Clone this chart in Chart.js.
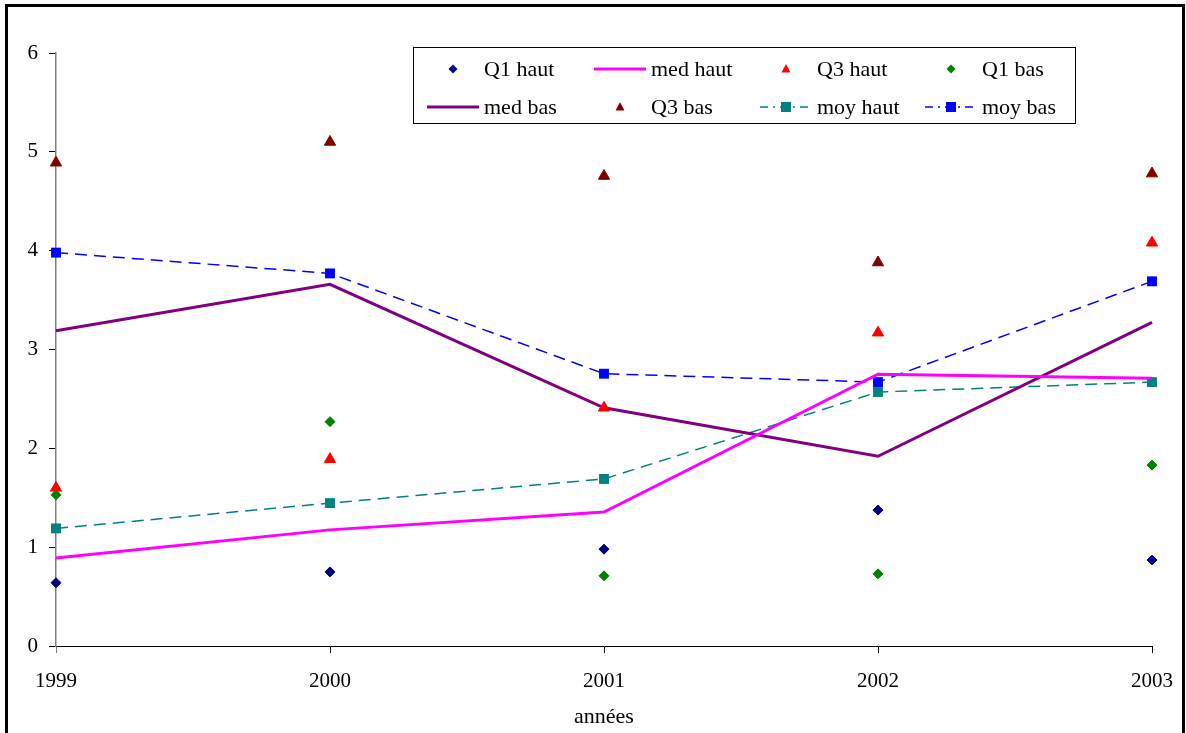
<!DOCTYPE html>
<html>
<head>
<meta charset="utf-8">
<title>Quartiles, médianes et moyennes 1999-2003</title>
<script src="https://cdn.jsdelivr.net/npm/chart.js@4.4.1/dist/chart.umd.min.js"></script>
<style>
  html, body { margin: 0; padding: 0; background: #fff; }
  canvas { display: block; }
</style>
</head>
<body>
<canvas id="chart" width="1186" height="733"></canvas>
<script>
// Categories
const years = ['1999', '2000', '2001', '2002', '2003'];

// Series values
const q1Haut  = [0.64, 0.75, 0.98, 1.375, 0.87];
const medHaut = [0.89, 1.175, 1.355, 2.75, 2.71];
const q3Haut  = [1.60, 1.89, 2.41, 3.17, 4.08];
const q1Bas   = [1.53, 2.27, 0.71, 0.73, 1.83];
const medBas  = [3.19, 3.66, 2.41, 1.92, 3.275];
const q3Bas   = [4.89, 5.10, 4.755, 3.88, 4.78];
const moyHaut = [1.19, 1.446, 1.69, 2.57, 2.67];
const moyBas  = [3.98, 3.77, 2.755, 2.67, 3.69];

// Value axis range
const yMin = 0, yMax = 6, yStep = 1;

const FONT = 'Liberation Serif, "Times New Roman", Times, serif';

function markers(label, data, color, style, radius) {
  return {
    label, data, showLine: false,
    pointStyle: style, pointRadius: radius, pointHoverRadius: radius,
    pointBackgroundColor: color, pointBorderColor: color, pointBorderWidth: 1,
    borderColor: color, backgroundColor: color
  };
}
function solid(label, data, color) {
  return {
    label, data, showLine: true, borderColor: color, backgroundColor: color,
    borderWidth: 3, pointRadius: 0, pointHoverRadius: 0, tension: 0
  };
}
function dashed(label, data, color) {
  return {
    label, data, showLine: true, borderColor: color, backgroundColor: color,
    borderWidth: 1.5, borderDash: [12, 7], tension: 0,
    pointStyle: 'rect', pointRadius: 7, pointHoverRadius: 7,
    pointBackgroundColor: color, pointBorderColor: color, pointBorderWidth: 0
  };
}

// Boxed two-row legend drawn inside the plot
const boxLegend = {
  id: 'boxLegend',
  afterDraw(chart) {
    const ctx = chart.ctx;
    ctx.save();
    ctx.strokeStyle = '#000';
    ctx.lineWidth = 1;
    ctx.setLineDash([]);
    ctx.strokeRect(413.5, 47.5, 662, 76);
    const cols = [484, 651, 817, 982];
    const rows = [69, 107];
    ctx.font = '22px ' + FONT;
    ctx.textBaseline = 'middle';
    ctx.textAlign = 'left';
    chart.data.datasets.forEach((ds, i) => {
      const tx = cols[i % 4], ty = rows[Math.floor(i / 4)];
      const cx = tx - 31;
      const color = ds.borderColor;
      ctx.fillStyle = color;
      ctx.strokeStyle = color;
      if (ds.showLine) {
        ctx.lineWidth = ds.borderWidth;
        ctx.setLineDash(ds.borderDash ? [8, 5, 2, 5] : []);
        ctx.beginPath();
        ctx.moveTo(tx - 57, ty);
        ctx.lineTo(tx - 5, ty);
        ctx.stroke();
        ctx.setLineDash([]);
        if (ds.pointRadius > 0) {
          ctx.fillRect(cx - 5, ty - 5, 10, 10);
        }
      } else if (ds.pointStyle === 'rectRot') {
        ctx.beginPath();
        ctx.moveTo(cx, ty - 4.5);
        ctx.lineTo(cx + 4.5, ty);
        ctx.lineTo(cx, ty + 4.5);
        ctx.lineTo(cx - 4.5, ty);
        ctx.closePath();
        ctx.fill();
      } else if (ds.pointStyle === 'triangle') {
        ctx.beginPath();
        ctx.moveTo(cx, ty - 5);
        ctx.lineTo(cx + 4.5, ty + 3.5);
        ctx.lineTo(cx - 4.5, ty + 3.5);
        ctx.closePath();
        ctx.fill();
      }
      ctx.fillStyle = '#000';
      ctx.fillText(ds.label, tx, ty + 1);
    });
    ctx.restore();
  }
};

// Outer frame (open at the bottom edge)
const outerFrame = {
  id: 'outerFrame',
  afterDraw(chart) {
    const ctx = chart.ctx;
    ctx.save();
    ctx.strokeStyle = '#000';
    ctx.lineWidth = 3;
    ctx.setLineDash([]);
    ctx.beginPath();
    ctx.moveTo(6.5, 745);
    ctx.lineTo(6.5, 5.5);
    ctx.lineTo(1183.5, 5.5);
    ctx.lineTo(1183.5, 745);
    ctx.stroke();
    ctx.restore();
  }
};

new Chart(document.getElementById('chart'), {
  type: 'line',
  data: {
    labels: years,
    datasets: [
      markers('Q1 haut', q1Haut, '#000080', 'rectRot', 5),
      solid('med haut', medHaut, '#FF00FF'),
      markers('Q3 haut', q3Haut, '#FF0000', 'triangle', 6.5),
      markers('Q1 bas', q1Bas, '#008000', 'rectRot', 5),
      solid('med bas', medBas, '#800080'),
      markers('Q3 bas', q3Bas, '#800000', 'triangle', 6.5),
      dashed('moy haut', moyHaut, '#008080'),
      dashed('moy bas', moyBas, '#0000FF')
    ]
  },
  options: {
    responsive: false,
    animation: false,
    devicePixelRatio: 1,
    layout: { padding: { top: 53, right: 34, left: 0, bottom: 0 } },
    plugins: { legend: { display: false }, tooltip: { enabled: false } },
    scales: {
      x: {
        type: 'category',
        offset: false,
        grid: {
          display: true, drawOnChartArea: false, drawTicks: true,
          tickLength: 7, tickWidth: 1,
          tickColor: (c) => (c.index === 0 ? '#808080' : '#000')
        },
        border: { display: true, color: '#000', width: 1 },
        ticks: {
          color: '#000', font: { family: FONT, size: 21 },
          padding: 16, maxRotation: 0, autoSkip: false
        },
        title: {
          display: true, text: 'années', color: '#000',
          font: { family: FONT, size: 22 }, padding: { top: 0, bottom: 3 }
        },
        afterFit: (s) => { s.height = 87; s.paddingLeft = 0; s.paddingRight = 0; }
      },
      y: {
        min: yMin, max: yMax,
        ticks: { stepSize: yStep, color: '#000', font: { family: FONT, size: 21 }, padding: 11 },
        grid: { drawOnChartArea: false, tickLength: 7, tickWidth: 1, tickColor: '#000' },
        border: { display: true, color: '#808080', width: 1.5 },
        afterFit: (s) => { s.width = 56; }
      }
    }
  },
  plugins: [boxLegend, outerFrame]
});
</script>
</body>
</html>
